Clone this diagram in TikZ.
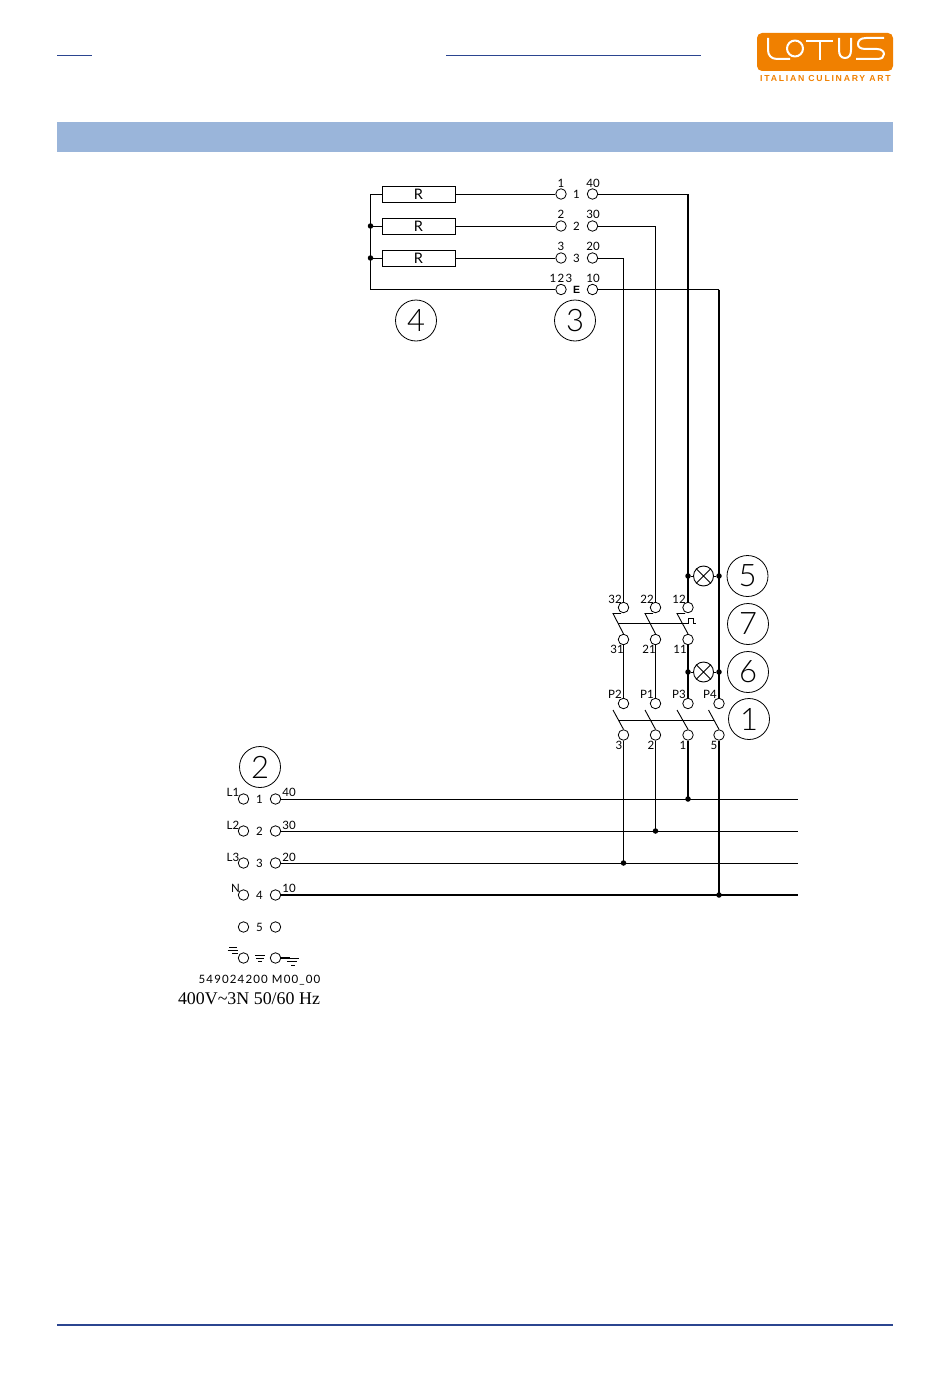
\documentclass[tikz,border=0pt]{standalone}
\usepackage{fontspec}
\setmainfont{Liberation Sans}
\newfontfamily\serifnum{Liberation Serif}
\newfontfamily\thinf{Lato Light}
\newfontfamily\tagf{Lato}
\definecolor{band}{HTML}{9AB5DA}
\definecolor{rule}{HTML}{2B4590}
\definecolor{lotus}{HTML}{F08000}
\tikzset{
 x=1pt,y=-1pt,
 wire/.style={line width=0.9pt,black},
 heavy/.style={line width=2pt,black},
 term/.style={circle,draw=black,line width=0.8pt,fill=white,inner sep=0pt,minimum size=10.5pt},
 res/.style={rectangle,draw=black,line width=0.9pt,minimum width=73pt,minimum height=16pt,inner sep=0pt,font=\tagf\fontsize{14.5}{15}\selectfont},
 tag/.style={inner sep=0pt,font=\tagf\fontsize{11.5}{12}\selectfont},
 num/.style={circle,draw=black,line width=0.8pt,minimum size=41pt,inner sep=0pt,font=\thinf\fontsize{31}{31}\selectfont},
 lamp/.style={circle,draw=black,line width=0.9pt,minimum size=20pt,inner sep=0pt},
 joint/.style={circle,fill=black,inner sep=0pt,minimum size=5.5pt},
 logoline/.style={draw=white,line width=2pt,double=lotus,double distance=2.3pt,line cap=butt,line join=round},
}
\begin{document}
\begin{tikzpicture}
\useasboundingbox (0,0) rectangle (950,1378);
% header
\draw[rule,line width=1.1pt] (57,55.5) -- (92,55.5);
\draw[rule,line width=1.1pt] (446,55.5) -- (701,55.5);
\fill[band] (57,122) rectangle (893,152);
\draw[rule,line width=1.1pt] (57,1325) -- (893,1325);
% logo
\fill[lotus,rounded corners=5pt] (757,33) rectangle (893,71);
\begin{scope}[logoline]
\draw (768,38) -- (768,50) .. controls (768,55) and (771,59) .. (777,59) -- (790,59);
\draw (795,48.5) circle[radius=8];
\draw (806,41) -- (833,41);
\draw (820,41) -- (820,60);
\draw (839,38) -- (839,50) .. controls (839,55) and (841,58) .. (845,58) .. controls (849,58) and (851,55) .. (851,50) -- (851,38);
\draw (884,38) -- (866,38) .. controls (860,38) and (858,41) .. (858,44) .. controls (858,47) and (860,49) .. (866,49) -- (877,49) .. controls (882,49) and (884,52) .. (884,54) .. controls (884,57) and (882,59) .. (877,59) -- (856,59);
\end{scope}
\node[inner sep=0pt,text=lotus,font=\bfseries\fontsize{8.7}{9}\selectfont] (logotext) at (825.5,79) {\addfontfeature{LetterSpace=20}ITALIAN CULINARY ART};
% resistors
\node[res] (r1) at (418.5,194) {R};
\node[res] (r2) at (418.5,226) {R};
\node[res] (r3) at (418.5,258) {R};
% upper terminal block
\node[term] (a1) at (561,194) {};
\node[term] (a2) at (561,226) {};
\node[term] (a3) at (561,258) {};
\node[term] (a4) at (561,289.5) {};
\node[term] (b1) at (592.5,194) {};
\node[term] (b2) at (592.5,226) {};
\node[term] (b3) at (592.5,258) {};
\node[term] (b4) at (592.5,289.5) {};
\node[tag] (la1) at (561,183) {1};
\node[tag] (la2) at (561,214) {2};
\node[tag] (la3) at (561,246) {3};
\node[tag] (la4) at (561,278) {\addfontfeature{LetterSpace=12}123};
\node[tag] (lb1) at (593,183) {40};
\node[tag] (lb2) at (593,214) {30};
\node[tag] (lb3) at (593,246) {20};
\node[tag] (lb4) at (593,278) {10};
\node[tag] (lm1) at (576.5,194) {1};
\node[tag] (lm2) at (576.5,226) {2};
\node[tag] (lm3) at (576.5,258) {3};
\node[tag,font=\bfseries\fontsize{10.5}{11}\selectfont] (lm4) at (576.5,289.5) {E};
% number circles
\node[num] (n4) at (416,320.5) {4};
\node[num] (n3) at (575,320.5) {3};
\node[num] (n5) at (747.5,576) {5};
\node[num] (n7) at (748,624) {7};
\node[num] (n6) at (748,672) {6};
\node[num] (n1) at (749,719) {1};
\node[num] (n2) at (260,767) {2};
% junctions on the thick verticals
\coordinate (cb1) at (688,194);
\coordinate (cb4) at (719,289.5);
% wiring drawn first so terminals sit on top
\draw[wire] (b1.east) -- (cb1);
\draw[heavy] (cb1) -- (688,607.5);
\draw[wire] (b2.east) -| (655.5,607.5);
\draw[wire] (b3.east) -| (623.5,607.5);
\draw[wire] (b4.east) -- (cb4);
\draw[heavy] (cb4) -- (719,703.5);
% switch terminals
\node[term] (s32) at (623.5,607.5) {};
\node[term] (s22) at (655.5,607.5) {};
\node[term] (s12) at (688,607.5) {};
\node[term] (s31) at (623.5,639.5) {};
\node[term] (s21) at (655.5,639.5) {};
\node[term] (s11) at (688,639.5) {};
\node[term] (p2) at (623.5,703.5) {};
\node[term] (p1) at (655.5,703.5) {};
\node[term] (p3) at (688,703.5) {};
\node[term] (p4) at (719,703.5) {};
\node[term] (q3) at (623.5,735) {};
\node[term] (q2) at (655.5,735) {};
\node[term] (q1) at (688,735) {};
\node[term] (q5) at (719,735) {};
\node[tag] (l32) at (615,599) {32};
\node[tag] (l22) at (647,599) {22};
\node[tag] (l12) at (679,599) {12};
\node[tag] (l31) at (617,649) {31};
\node[tag] (l21) at (649,649) {21};
\node[tag] (l11) at (680,649) {11};
\node[tag] (lp2) at (615,694) {P2};
\node[tag] (lp1) at (647,694) {P1};
\node[tag] (lp3) at (679,694) {P3};
\node[tag] (lp4) at (710,694) {P4};
\node[tag] (l3) at (619,745) {3};
\node[tag] (l2) at (651,745) {2};
\node[tag] (l1) at (683,745) {1};
\node[tag] (l5) at (714,745) {5};
% lamps
\node[lamp] (lamp5) at (703.5,576) {};
\node[lamp] (lamp6) at (703.5,672) {};
\draw[wire] (lamp5.45) -- (lamp5.225) (lamp5.135) -- (lamp5.315);
\draw[wire] (lamp6.45) -- (lamp6.225) (lamp6.135) -- (lamp6.315);
\node[joint] (j5a) at (688,576) {};
\node[joint] (j5b) at (719,576) {};
\node[joint] (j6a) at (688,672) {};
\node[joint] (j6b) at (719,672) {};
% lower terminal block
\foreach \i/\yy in {1/799,2/831,3/863,4/895,5/927,6/958}{
 \node[term] (c\i) at (243.5,\yy) {};
 \node[term] (d\i) at (275.5,\yy) {};
}
\node[tag] (m1) at (259.5,799.5) {1};
\node[tag] (m2) at (259.5,831.5) {2};
\node[tag] (m3) at (259.5,863.5) {3};
\node[tag] (m4) at (259.5,895.5) {4};
\node[tag] (m5) at (259.5,927) {5};
\node[tag] (h1) at (233,792.5) {L1};
\node[tag] (h2) at (233,825) {L2};
\node[tag] (h3) at (233,857) {L3};
\node[tag] (h4) at (235.5,888) {N};
\node[tag] (k1) at (289,792.5) {40};
\node[tag] (k2) at (289,825) {30};
\node[tag] (k3) at (289,857) {20};
\node[tag] (k4) at (289,888) {10};
\node[tag] (code) at (259.5,980) {\addfontfeature{LetterSpace=10}549024200  M00\_00};
\node[inner sep=0pt,font=\serifnum\fontsize{17.9}{18}\selectfont] (volt) at (249,999) {400V\textasciitilde3N 50/60 Hz};
% bus ends
\coordinate (e1) at (798,799);
\coordinate (e2) at (798,831);
\coordinate (e3) at (798,863);
\coordinate (e4) at (798,895);
\node[joint] (x1) at (688,799) {};
\node[joint] (x2) at (655.5,831) {};
\node[joint] (x3) at (623.5,863) {};
\node[joint] (x4) at (719,895) {};
\node[joint] (y2) at (370.5,226) {};
\node[joint] (y3) at (370.5,258) {};
% top wiring
\draw[wire] (r1.east) -- (a1.west);
\draw[wire] (r2.east) -- (a2.west);
\draw[wire] (r3.east) -- (a3.west);
\draw[wire] (r1.west) -| (y2.center);
\draw[wire] (y2.center) -- (r2.west);
\draw[wire] (y3.center) -- (r3.west);
\draw[wire] (y2.center) -- (y3.center);
\draw[wire] (y3.center) |- (a4.west);
% lamps wiring
\draw[wire] (j5a) -- (lamp5);
\draw[wire] (lamp5) -- (j5b);
\draw[wire] (j6a) -- (lamp6);
\draw[wire] (lamp6) -- (j6b);
% verticals
\draw[heavy] (s11.south) -- (p3.north);
\draw[wire] (s31.south) -- (p2.north);
\draw[wire] (s21.south) -- (p1.north);
\draw[wire] (q3.south) -- (x3.center);
\draw[wire] (q2.south) -- (x2.center);
\draw[heavy] (q1.south) -- (x1.center);
\draw[heavy] (q5.south) -- (x4.center);
% buses
\draw[wire] (d1.east) -- (e1);
\draw[wire] (d2.east) -- (e2);
\draw[wire] (d3.east) -- (e3);
\draw[heavy] (d4.east) -- (e4);
% switch arms
\coordinate (u1) at (613,613.5);
\coordinate (u2) at (645,613.5);
\coordinate (u3) at (677,613.5);
\draw[wire] (621,613.5) -- (u1) -- (s31.north);
\draw[wire] (653,613.5) -- (u2) -- (s21.north);
\draw[wire] (685,613.5) -- (u3) -- (s11.north);
\draw[wire] (618,623) -- (688,623) -- (688,618) -- (693,618) -- (693,623) -- (696,623);
\coordinate (v1) at (613,710);
\coordinate (v2) at (645,710);
\coordinate (v3) at (677,710);
\coordinate (v4) at (708.5,710);
\draw[wire] (v1) -- (q3.north);
\draw[wire] (v2) -- (q2.north);
\draw[wire] (v3) -- (q1.north);
\draw[wire] (v4) -- (q5.north);
\draw[wire] (619,720) -- (714,720);
% earth symbols
\draw[wire] (229,947) -- (237,947) (227.5,950) -- (238,950) (232,953) -- (238,953);
\draw[wire] (255,955) -- (265,955) (256,958) -- (264,958) (258,961) -- (262,961);
\coordinate (g1) at (290,958);
\draw[heavy] (d6.east) -- (g1);
\draw[wire] (285,958) -- (299,958) (287,961.5) -- (297,961.5) (291,965) -- (295,965);
\end{tikzpicture}
\end{document}
